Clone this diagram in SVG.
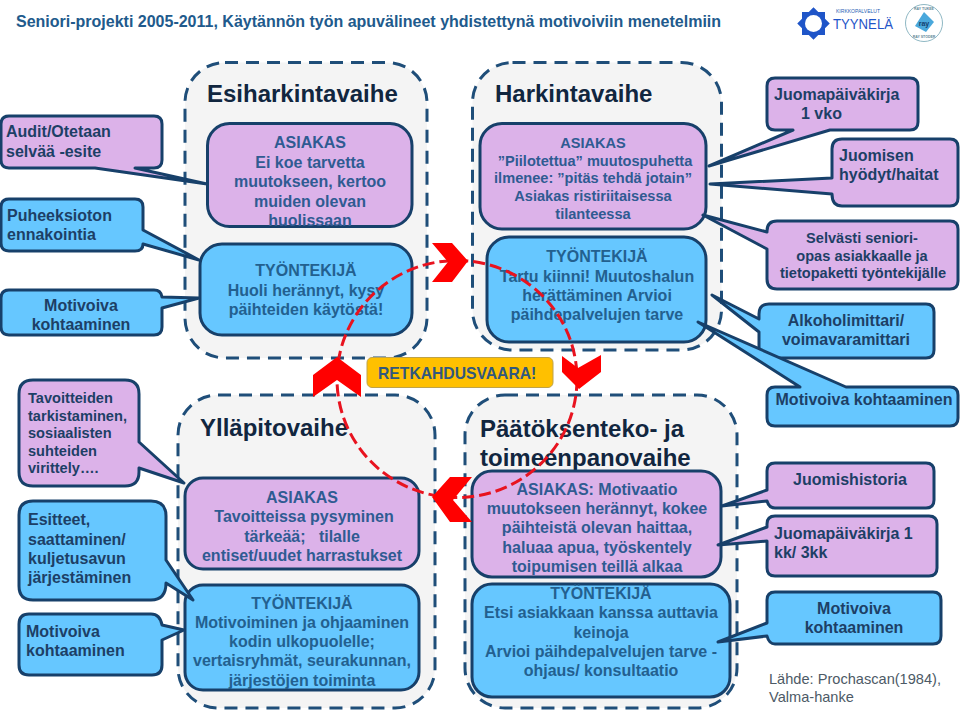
<svg xmlns="http://www.w3.org/2000/svg" width="960" height="710" viewBox="0 0 960 710">
<style>
text{font-family:"Liberation Sans",Arial,sans-serif;font-weight:700}
.panel{fill:#f4f4f4;stroke:#1f4e79;stroke-width:3;stroke-dasharray:13 8}
.p{fill:#dcb2e9;stroke:#17406a;stroke-width:3;stroke-linejoin:round}
.b{fill:#66c7ff;stroke:#17406a;stroke-width:3;stroke-linejoin:round}
.head{font-size:24px;fill:#11263f}
.n{font-size:16px;fill:#2f5b92;text-anchor:middle}
.nb{font-size:16px;fill:#23608f;text-anchor:middle}
.c{font-size:16px;fill:#1d3f66}
.s{font-size:14.6px}
.m{text-anchor:middle}
.chev{fill:#ff0000}
</style>
<rect width="960" height="710" fill="#ffffff"/>
<text x="16" y="27" font-size="16" fill="#215a8c">Seniori-projekti 2005-2011, Käytännön työn apuvälineet yhdistettynä motivoiviin menetelmiin</text>
<g id="logo-tyynela">
<rect x="802" y="12" width="23" height="23" fill="#1f55c8"/>
<rect x="802" y="12" width="23" height="23" fill="#1f55c8" transform="rotate(45 813.500 23.500)"/>
<circle cx="813.500" cy="23.500" r="8.500" fill="#ffffff"/>
<text x="836" y="13" font-size="5" font-weight="400" fill="#2a5fb5" textLength="44" lengthAdjust="spacingAndGlyphs" style="font-weight:400">KIRKKOPALVELUT</text>
<text x="833" y="29" font-size="15" fill="#1f55c8" textLength="60" lengthAdjust="spacingAndGlyphs" style="font-weight:400">TYYNELÄ</text>
</g>
<g id="logo-ray">
<circle cx="924" cy="23" r="18.500" fill="#ffffff" stroke="#8fb8c4" stroke-width="1"/>
<path d="M924 12l10 10-8 10-11-6z" fill="#4aa8dc"/>
<text x="924" y="26" font-size="7" fill="#14406e" text-anchor="middle">ray</text>
<text x="924" y="10" font-size="3.500" fill="#5f8796" text-anchor="middle">RAY TUKEE</text>
<text x="924" y="38" font-size="3.500" fill="#5f8796" text-anchor="middle">RAY STÖDER</text>
</g>

<g id="phase-esiharkinta"><rect class="panel" x="185" y="62.500" width="242" height="295.500" rx="40"/><text class="head" x="207" y="102">Esiharkintavaihe</text></g>
<g id="phase-harkinta"><rect class="panel" x="472.500" y="62.500" width="249" height="287.500" rx="40"/><text class="head" x="495" y="102">Harkintavaihe</text></g>
<g id="phase-yllapito"><rect class="panel" x="178" y="395" width="257" height="313" rx="40"/><text class="head" x="200" y="436">Ylläpitovaihe</text></g>
<g id="phase-paatos"><rect class="panel" x="465" y="395" width="272" height="313" rx="40"/><text class="head" x="480" y="437">Päätöksenteko- ja</text><text class="head" x="480" y="466">toimeenpanovaihe</text></g>

<g id="esi-asiakas"><rect class="p" x="207.500" y="123.500" width="204.500" height="103" rx="22"/>
<text class="n" x="310" y="148">ASIAKAS</text><text class="n" x="310" y="168">Ei koe tarvetta</text><text class="n" x="310" y="187">muutokseen, kertoo</text><text class="n" x="310" y="207">muiden olevan</text><text class="n" x="310" y="226">huolissaan</text></g>
<g id="esi-tyontekija"><rect class="b" x="200" y="244" width="212" height="91" rx="22"/>
<text class="nb" x="306" y="276">TYÖNTEKIJÄ</text><text class="nb" x="306" y="296">Huoli herännyt, kysy</text><text class="nb" x="306" y="315">päihteiden käytöstä!</text></g>
<g id="har-asiakas"><rect class="p" x="480" y="123.500" width="226" height="105.500" rx="22"/>
<text class="n s" x="593" y="148">ASIAKAS</text><text class="n s" x="595" y="166">”Piilotettua” muutospuhetta</text><text class="n s" x="593" y="183">ilmenee: ”pitäs tehdä jotain”</text><text class="n s" x="593" y="201">Asiakas ristiriitaisessa</text><text class="n s" x="593" y="219">tilanteessa</text></g>
<g id="har-tyontekija"><rect class="b" x="487" y="237" width="219" height="105" rx="22"/>
<text class="nb" x="597" y="262">TYÖNTEKIJÄ</text><text class="nb" x="597" y="282">Tartu kiinni! Muutoshalun</text><text class="nb" x="597" y="301">herättäminen Arvioi</text><text class="nb" x="597" y="320">päihdepalvelujen tarve</text></g>
<g id="yll-asiakas"><rect class="p" x="185" y="478" width="234" height="91" rx="18"/>
<text class="n" x="302" y="503">ASIAKAS</text><text class="n" x="304" y="522">Tavoitteissa pysyminen</text><text class="n" x="302" y="542">tärkeää;&#160;&#160; tilalle</text><text class="n" x="302" y="561">entiset/uudet harrastukset</text></g>
<g id="yll-tyontekija"><rect class="b" x="185" y="585" width="234" height="105" rx="18"/>
<text class="nb" x="302" y="609">TYÖNTEKIJÄ</text><text class="nb" x="302" y="628">Motivoiminen ja ohjaaminen</text><text class="nb" x="302" y="647">kodin ulkopuolelle;</text><text class="nb" x="302" y="666">vertaisryhmät, seurakunnan,</text><text class="nb" x="302" y="686">järjestöjen toiminta</text></g>
<g id="paa-asiakas"><rect class="p" x="472" y="471" width="249" height="106" rx="20"/>
<text class="n" x="597" y="495">ASIAKAS: Motivaatio</text><text class="n" x="597" y="514">muutokseen herännyt, kokee</text><text class="n" x="597" y="533">päihteistä olevan haittaa,</text><text class="n" x="597" y="553">haluaa apua, työskentely</text><text class="n" x="597" y="572">toipumisen teillä alkaa</text></g>
<g id="paa-tyontekija"><rect class="b" x="472" y="584" width="258" height="113" rx="20"/>
<text class="nb" x="601" y="599">TYÖNTEKIJÄ</text><text class="nb" x="601" y="618">Etsi asiakkaan kanssa auttavia</text><text class="nb" x="601" y="638">keinoja</text><text class="nb" x="601" y="657">Arvioi päihdepalvelujen tarve -</text><text class="nb" x="601" y="676">ohjaus/ konsultaatio</text></g>

<g id="note-audit"><path class="p" d="M9 116H154Q162 116 162 124V160Q162 168 154 168H135L207 184L95 168H9Q1 168 1 160V124Q1 116 9 116Z"/><text class="c" x="6" y="137">Audit/Otetaan</text><text class="c" x="6" y="157">selvää -esite</text></g>
<g id="note-puheeksioton"><path class="b" d="M9 199H135Q143 199 143 207V230L199 260L143 244Q143 251 135 251H9Q1 251 1 243V207Q1 199 9 199Z"/><text class="c" x="7" y="221">Puheeksioton</text><text class="c" x="7" y="240">ennakointia</text></g>
<g id="note-motivoiva-1"><path class="b" d="M9 290H154Q161 290 162 297L199 298L162 308V327Q162 335 154 335H9Q1 335 1 327V298Q1 290 9 290Z"/><text class="c m" x="81" y="311">Motivoiva</text><text class="c m" x="81" y="330">kohtaaminen</text></g>
<g id="note-juomapaivakirja"><path class="p" d="M775 78H910Q918 78 918 86V122Q918 130 910 130H830L709 166L793 130H775Q767 130 767 122V86Q767 78 775 78Z"/><text class="c" x="774" y="100">Juomapäiväkirja</text><text class="c" x="801" y="119">1 vko</text></g>
<g id="note-juomisen"><path class="p" d="M842 139H950Q958 139 958 147V198Q958 206 950 206H842Q832 206 832 194L710 184L832 178V149Q832 139 842 139Z"/><text class="c" x="839" y="161">Juomisen</text><text class="c" x="839" y="180">hyödyt/haitat</text></g>
<g id="note-selvasti"><path class="p" d="M777 221H950Q958 221 958 229V281Q958 289 950 289H777Q767 289 767 279V249L703 215L767 232V231Q767 221 777 221Z"/><text class="c s m" x="862" y="243">Selvästi seniori-</text><text class="c s m" x="862" y="261">opas asiakkaalle ja</text><text class="c s m" x="863" y="278">tietopaketti työntekijälle</text></g>
<g id="note-alkoholi"><path class="b" d="M769 304H926Q934 304 934 312V350Q934 358 926 358H767Q759 358 759 350V332L712 295L759 319V314Q759 304 769 304Z"/><text class="c m" x="846" y="326">Alkoholimittari/</text><text class="c m" x="846" y="345">voimavaramittari</text></g>
<g id="note-motivoiva-2"><path class="b" d="M775 387H800L698 322L846 387H950Q958 387 958 395V418Q958 426 950 426H775Q767 426 767 418V395Q767 387 775 387Z"/><text class="c m" x="864" y="405">Motivoiva kohtaaminen</text></g>
<g id="note-juomishistoria"><path class="p" d="M775 463H926Q934 463 934 471V500Q934 508 926 508H775Q769 508 767 501L722 506L767 490V471Q767 463 775 463Z"/><text class="c m" x="850" y="485">Juomishistoria</text></g>
<g id="note-juomapaivakirja-2"><path class="p" d="M775 516H929Q937 516 937 524V568Q937 576 929 576H775Q767 576 767 568V541L718 545L767 527V524Q767 516 775 516Z"/><text class="c" x="774" y="539">Juomapäiväkirja 1</text><text class="c" x="774" y="558">kk/ 3kk</text></g>
<g id="note-motivoiva-3"><path class="b" d="M775 592H933Q941 592 941 600V636Q941 644 933 644H775Q769 644 767 636L718 642L767 623V600Q767 592 775 592Z"/><text class="c m" x="854" y="614">Motivoiva</text><text class="c m" x="854" y="633">kohtaaminen</text></g>
<g id="note-tavoitteiden"><path class="p" d="M33 380H125Q139 380 139 394V442L184 483L139 468V472Q139 486 125 486H33Q19 486 19 472V394Q19 380 33 380Z"/><text class="c s" x="28" y="403">Tavoitteiden</text><text class="c s" x="28" y="421">tarkistaminen,</text><text class="c s" x="28" y="438">sosiaalisten</text><text class="c s" x="28" y="456">suhteiden</text><text class="c s" x="28" y="473">virittely….</text></g>
<g id="note-esitteet"><path class="b" d="M33 501H151Q166 501 166 516V560L193 600L166 583Q166 600 151 600H33Q19 600 19 586V515Q19 501 33 501Z"/><text class="c" x="28" y="525">Esitteet,</text><text class="c" x="28" y="545">saattaminen/</text><text class="c" x="28" y="564">kuljetusavun</text><text class="c" x="28" y="583">järjestäminen</text></g>
<g id="note-motivoiva-4"><path class="b" d="M29 614H151Q160 614 162 625L184 630L162 640V665Q162 675 152 675H29Q19 675 19 665V624Q19 614 29 614Z"/><text class="c" x="26" y="637">Motivoiva</text><text class="c" x="26" y="656">kohtaaminen</text></g>

<g id="connectors">
<ellipse cx="457" cy="379" rx="120" ry="118.500" fill="none" stroke="#e8131f" stroke-width="3" stroke-dasharray="12 5"/>
<polygon class="chev" points="432,243 452,243 468,261 452,282 432,282 448,262"/>
<polygon class="chev" points="562,356 578,368 601,355 601,372 579,389 562,372"/>
<polygon class="chev" points="472,477 450,477 432,497 450,522 472,522 453,500"/>
<polygon class="chev" points="337,357 361,375 361,397 337,380 313,397 313,375"/>
</g>
<g id="retkahdusvaara"><rect x="367" y="357.500" width="186" height="30" rx="5" fill="#ffc000" stroke="#bda24a" stroke-width="1"/><text x="378" y="379" font-size="15.700" fill="#31587f">RETKAHDUSVAARA!</text></g>
<text x="769" y="684" font-size="14.600" fill="#4d5a66" style="font-weight:400">Lähde: Prochascan(1984),</text>
<text x="769" y="702" font-size="14.600" fill="#4d5a66" style="font-weight:400">Valma-hanke</text>
</svg>
